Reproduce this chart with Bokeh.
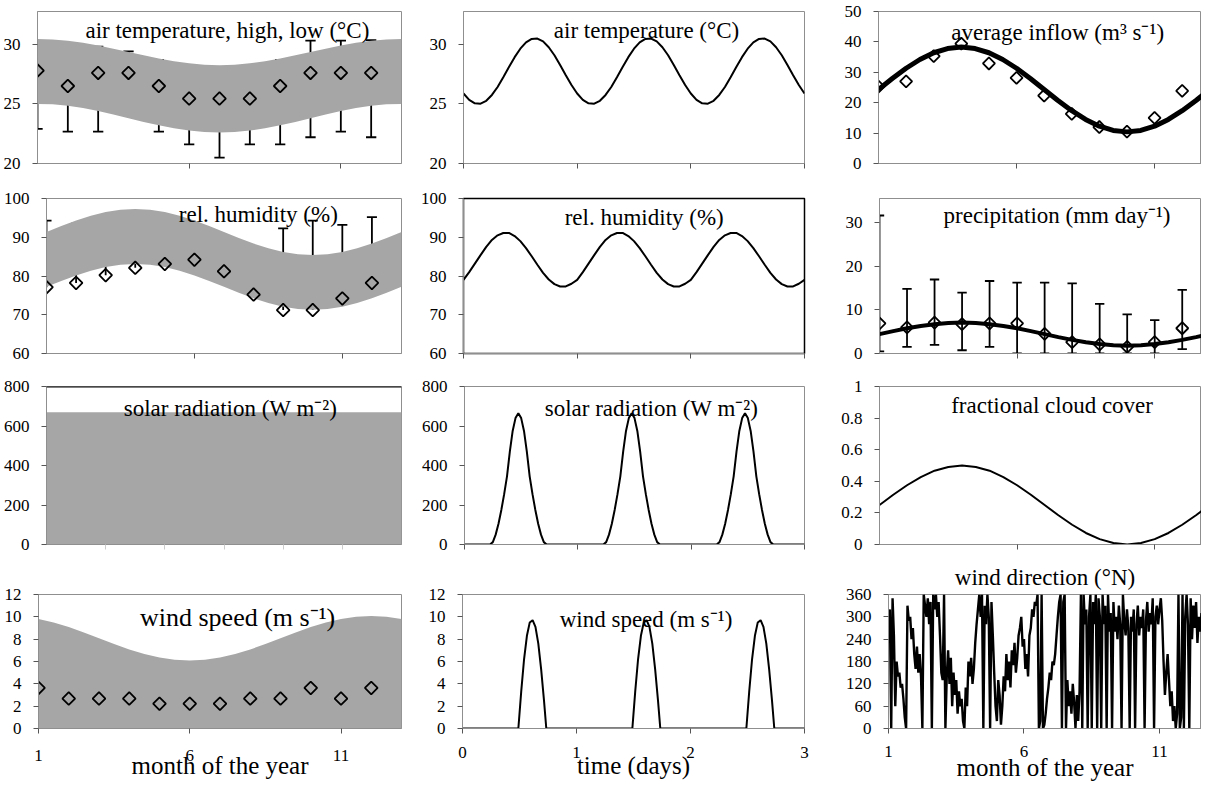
import numpy as np
from bokeh.plotting import figure
from bokeh.models import Range1d, Label, FixedTicker, Span
from bokeh.layouts import row, column
from bokeh.embed import file_html
from bokeh.resources import INLINE

FONT = "Liberation Serif"
BAND = "#a6a6a6"
FRAME = "#8f8f8f"

# ---------------- data ----------------
months = [1, 2, 3, 4, 5, 6, 7, 8, 9, 10, 11, 12]
mgrid = [1.0, 1.5, 2.0, 2.5, 3.0, 3.5, 4.0, 4.5, 5.0, 5.5, 6.0, 6.5, 7.0,
         7.5, 8.0, 8.5, 9.0, 9.5, 10.0, 10.5, 11.0, 11.5, 12.0, 12.5, 13.0]
mfill = [1, 2, 3, 4, 5, 6, 7, 8, 9, 10, 11, 12, 13]

# air temperature monthly
temp_band_hi = [30.45, 30.41, 30.30, 30.13, 29.90, 29.63, 29.35, 29.07, 28.80, 28.57, 28.40, 28.29, 28.25,
                28.29, 28.40, 28.57, 28.80, 29.07, 29.35, 29.63, 29.90, 30.13, 30.30, 30.41, 30.45]
temp_band_lo = [25.00, 24.96, 24.84, 24.65, 24.40, 24.11, 23.80, 23.49, 23.20, 22.95, 22.76, 22.64, 22.60,
                22.64, 22.76, 22.95, 23.20, 23.49, 23.80, 24.11, 24.40, 24.65, 24.84, 24.96, 25.00]
temp_mean = [27.8, 26.5, 27.6, 27.6, 26.5, 25.45, 25.45, 25.45, 26.5, 27.6, 27.6, 27.6]
temp_high = [29.8, 29.6, 29.8, 29.4, 28.7, 28.0, 27.8, 28.0, 28.7, 30.3, 30.3, 30.35]
temp_low = [22.9, 22.67, 22.67, 24.2, 22.67, 21.6, 20.5, 21.6, 21.6, 22.2, 22.67, 22.2]

# relative humidity monthly
rh_band_hi = [91.35, 92.89, 94.33, 95.56, 96.50, 97.10, 97.30, 97.10, 96.50, 95.56, 94.33, 92.89, 91.35,
              89.81, 88.38, 87.14, 86.20, 85.60, 85.40, 85.60, 86.20, 87.14, 88.38, 89.81, 91.35]
rh_band_lo = [77.20, 78.73, 80.15, 81.37, 82.31, 82.90, 83.10, 82.90, 82.31, 81.37, 80.15, 78.73, 77.20,
              75.67, 74.25, 73.03, 72.09, 71.50, 71.30, 71.50, 72.09, 73.03, 74.25, 75.67, 77.20]
rh_mean = [77.1, 78.2, 80.2, 82.1, 83.1, 84.2, 81.2, 75.2, 71.2, 71.2, 74.2, 78.2]
rh_high = [94.3, 93.5, 95.0, 96.0, 95.5, 93.5, 90.0, 87.5, 92.3, 94.3, 93.2, 95.2]

# solar radiation monthly (upper envelope)
solar_max = [670, 670, 670, 670, 670, 670, 670, 670, 670, 670, 670, 670, 670]

# wind speed monthly
wind_band_hi = [9.81, 9.49, 9.08, 8.60, 8.08, 7.56, 7.08, 6.67, 6.35, 6.15, 6.08, 6.15, 6.35,
                6.67, 7.08, 7.56, 8.08, 8.60, 9.08, 9.49, 9.81, 10.01, 10.08, 10.01, 9.81]
wind_mean = [3.63, 2.68, 2.68, 2.68, 2.22, 2.22, 2.22, 2.68, 2.68, 3.63, 2.68, 3.63]

# daily profiles (one day, repeated for three days)
temp_day_t = [0.0, 0.05, 0.10, 0.15, 0.20, 0.25, 0.30, 0.35, 0.40, 0.45,
              0.50, 0.55, 0.60, 0.65, 0.70, 0.75, 0.80, 0.85, 0.90, 0.95]
temp_day = [25.87, 25.34, 25.05, 25.02, 25.26, 25.75, 26.42, 27.24, 28.09, 28.92,
            29.63, 30.16, 30.45, 30.48, 30.24, 29.75, 29.08, 28.26, 27.41, 26.58]
rh_day = [79.0, 81.0, 83.2, 85.4, 87.5, 89.3, 90.5, 91.1, 91.1, 90.3,
          89.0, 87.2, 85.1, 82.9, 80.8, 79.1, 77.9, 77.3, 77.3, 78.0]
solar_day_t = [0.0, 0.225, 0.25, 0.275, 0.30, 0.325, 0.35, 0.375, 0.40, 0.425, 0.45, 0.475,
               0.50, 0.525, 0.55, 0.575, 0.60, 0.625, 0.65, 0.675, 0.70, 0.725]
solar_day = [0, 0, 12, 50, 105, 175, 255, 345, 470, 575, 640, 665,
             640, 575, 470, 345, 255, 175, 105, 50, 12, 0]
wind_day_t = [0.0, 0.49, 0.515, 0.54, 0.565, 0.59, 0.615, 0.64, 0.665, 0.69, 0.715, 0.735]
wind_day = [0, 0, 3.3, 6.2, 8.3, 9.5, 9.7, 9.1, 7.6, 5.3, 2.5, 0]

# average inflow
inflow_obs = [25.3, 27.0, 35.3, 39.4, 32.9, 28.2, 22.3, 16.3, 12.0, 10.5, 15.0, 23.9]
inflow_fit = [24.35, 27.96, 31.33, 34.21, 36.43, 37.82, 38.30, 37.82, 36.43, 34.21, 31.33, 27.96, 24.35,
              20.74, 17.38, 14.49, 12.27, 10.88, 10.40, 10.88, 12.27, 14.49, 17.38, 20.74, 24.35]

# precipitation
precip_obs = [6.9, 6.0, 7.1, 6.75, 6.9, 6.9, 4.5, 2.6, 2.1, 1.5, 2.6, 5.8]
precip_high = [31.7, 14.85, 17.0, 14.0, 16.65, 16.3, 16.3, 16.1, 11.4, 9.0, 7.65, 14.6]
precip_low = [0.5, 1.5, 2.0, 0.75, 1.5, 0.0, 0.0, 0.0, 0.0, 0.0, 0.0, 1.0]
precip_fit = [4.45, 5.14, 5.78, 6.32, 6.74, 7.01, 7.10, 7.01, 6.74, 6.32, 5.78, 5.14, 4.45,
              3.76, 3.13, 2.58, 2.16, 1.89, 1.80, 1.89, 2.16, 2.58, 3.13, 3.76, 4.45]

# fractional cloud cover
cloud = [0.250, 0.315, 0.375, 0.427, 0.467, 0.491, 0.500, 0.491, 0.467, 0.427, 0.375, 0.315, 0.250,
         0.185, 0.125, 0.073, 0.034, 0.009, 0.000, 0.009, 0.034, 0.073, 0.125, 0.185, 0.250]

# wind direction (every 0.05 month from month 1)
wind_dir = [
    280, 320, 0, 350, 250, 60, 180, 140, 150, 110, 120, 80, 30, 0, 330, 290, 300, 240, 270, 200,
    160, 220, 150, 200, 140, 0, 360, 330, 300, 350, 280, 340, 0, 360, 320, 360, 300, 340, 250, 150,
    130, 360, 0, 140, 210, 120, 190, 60, 150, 90, 130, 40, 100, 60, 80, 20, 0, 110, 60, 180,
    140, 190, 120, 160, 230, 280, 320, 360, 300, 360, 0, 330, 280, 360, 300, 0, 340, 250, 150, 60,
    20, 130, 90, 10, 60, 140, 100, 200, 130, 180, 110, 210, 170, 230, 150, 190, 250, 270, 300, 220,
    240, 160, 200, 140, 250, 270, 320, 300, 340, 330, 360, 0, 20, 360, 0, 10, 40, 80, 110, 150,
    130, 180, 170, 200, 250, 300, 340, 360, 0, 340, 360, 0, 130, 60, 100, 40, 120, 70, 0, 90,
    20, 100, 360, 0, 360, 280, 320, 0, 300, 360, 0, 340, 280, 360, 0, 350, 300, 0, 360, 280,
    330, 0, 360, 260, 310, 0, 340, 260, 300, 240, 330, 280, 0, 360, 290, 250, 320, 270, 0, 300,
    260, 320, 0, 280, 330, 250, 300, 270, 320, 0, 290, 340, 260, 310, 280, 350, 0, 300, 330, 280,
    320, 350, 290, 180, 90, 150, 200, 130, 60, 100, 20, 60, 0, 40, 360, 0, 30, 360, 0, 300,
    360, 280, 0, 350, 240, 330, 270, 340, 230, 300, 260, 310, 280, 320, 270]
wind_dir_month = [round(1 + 0.05 * i, 2) for i in range(len(wind_dir))]


def tile(ts, vs, days=3):
    tt, vv = [], []
    for d in range(days):
        tt += [d + t for t in ts]
        vv += list(vs)
    return tt + [float(days)], vv + [vs[0]]


# ---------------- helpers ----------------
def make(w, h, bl, br, bt, bb, xr, yr, xt, yt, xlabels=False, xstand=10, overrides=None):
    p = figure(width=w, height=h, x_range=Range1d(*xr), y_range=Range1d(*yr),
               output_backend="svg", toolbar_location=None,
               min_border_left=bl, min_border_right=br, min_border_top=bt, min_border_bottom=bb)
    p.xgrid.visible = False
    p.ygrid.visible = False
    p.outline_line_color = FRAME
    p.outline_line_width = 1
    p.background_fill_color = "white"
    p.border_fill_color = "white"
    for ax in (p.xaxis[0], p.yaxis[0]):
        ax.axis_line_color = FRAME
        ax.major_tick_line_color = "#555555"
        ax.major_tick_out = 5
        ax.major_tick_in = 0
        ax.minor_tick_line_color = None
        ax.major_label_text_font = FONT
        ax.major_label_text_font_size = "17px"
        ax.major_label_text_color = "black"
    p.yaxis.ticker = FixedTicker(ticks=yt, minor_ticks=[])
    p.xaxis.ticker = FixedTicker(ticks=xt, minor_ticks=[])
    p.yaxis.major_label_standoff = 12
    if xlabels:
        p.xaxis.major_label_standoff = xstand
    else:
        p.xaxis.major_label_text_font_size = "1px"
        p.xaxis.major_label_text_color = None
        p.xaxis.major_label_standoff = 0
    if overrides:
        p.yaxis.major_label_overrides = overrides
    return p


def label(p, text, x, y, yoff, size="23px"):
    p.add_layout(Label(x=x, y=y, y_offset=yoff, text=text, text_font=FONT, text_font_size=size,
                       text_align="center", text_baseline="alphabetic", text_color="black"))


def axis_title(p, text, standoff, size="25px"):
    p.xaxis.axis_label = text
    p.xaxis.axis_label_text_font = FONT
    p.xaxis.axis_label_text_font_size = size
    p.xaxis.axis_label_text_font_style = "normal"
    p.xaxis.axis_label_text_color = "black"
    p.xaxis.axis_label_text_line_height = 0.9
    p.xaxis.axis_label_standoff = standoff


def diamonds(p, x, y, size=9):
    p.scatter(x=x, y=y, marker="square", angle=np.pi / 4, size=size,
              fill_color=None, line_color="black", line_width=1.8)


def errbars(p, x, lo, hi, hw=0.17, caps_lo=True):
    p.segment(x0=x, y0=lo, x1=x, y1=hi, line_color="black", line_width=1.8)
    p.segment(x0=[m - hw for m in x], y0=hi, x1=[m + hw for m in x], y1=hi, line_color="black", line_width=1.8)
    if caps_lo:
        p.segment(x0=[m - hw for m in x], y0=lo, x1=[m + hw for m in x], y1=lo, line_color="black", line_width=1.8)


W1, W2, W3 = 417, 421, 363
H1, H2, H3, H4 = 176, 189, 190, 230
MX = [6, 11]
DX = [0, 1, 2, 3]

# ---------------- row 1 ----------------
p11 = make(W1, H1, 37, 16, 11, 13, (1, 13), (20, 32.75), MX, [20, 25, 30])
errbars(p11, months, temp_low, temp_high)
p11.varea(x=mgrid, y1=temp_band_lo, y2=temp_band_hi, fill_color=BAND)
diamonds(p11, months, temp_mean)
label(p11, "air temperature, high, low (°C)", 7.26, 32.75, -19)

p12 = make(W2, H1, 46, 34, 11, 13, (0, 3), (20, 32.75), DX, [20, 25, 30])
tt, vv = tile(temp_day_t, temp_day)
p12.line(tt, vv, line_color="black", line_width=2)
label(p12, "air temperature (°C)", 1.61, 32.75, -19)

p13 = make(W3, H1, 40, 0, 11, 13, (1, 12.7), (0, 50), MX, [0, 10, 20, 30, 40, 50])
p13.line(mgrid, inflow_fit, line_color="black", line_width=5)
diamonds(p13, months, inflow_obs, size=8.5)
label(p13, "average inflow (m³ s⁻¹)", 7.49, 50, -21)

# ---------------- row 2 ----------------
p21 = make(W1, H2, 44, 16, 21, 10, (1, 13), (60, 100), MX, [60, 70, 80, 90, 100])
errbars(p21, months, rh_mean, rh_high, caps_lo=False)
p21.varea(x=mgrid, y1=rh_band_lo, y2=rh_band_hi, fill_color=BAND)
diamonds(p21, months, rh_mean)
label(p21, "rel. humidity (%)", 8.16, 100, -16)

p22 = make(W2, H2, 46, 34, 22, 11, (0, 3), (60, 100), DX, [60, 70, 80, 90, 100])
p22.outline_line_color = "black"
p22.outline_line_width = 1.5
tt, vv = tile(temp_day_t, rh_day)
p22.line(tt, vv, line_color="black", line_width=2)
label(p22, "rel. humidity (%)", 1.59, 100, -19)

p23 = make(W3, H2, 41, 0, 19, 12, (1, 12.7), (0, 35.6), MX, [0, 10, 20, 30])
errbars(p23, months, precip_low, precip_high)
diamonds(p23, months, precip_obs, size=8.5)
p23.line(mgrid, precip_fit, line_color="black", line_width=4)
label(p23, "precipitation (mm day⁻¹)", 7.45, 35.6, -17)

# ---------------- row 3 ----------------
p31 = make(W1, H3, 46, 16, 21, 11, (1, 13), (0, 800), [3, 5, 7, 9, 11], [0, 200, 400, 600, 800])
p31.xaxis.major_tick_line_color = "#cccccc"
p31.varea(x=mfill, y1=[0] * len(solar_max), y2=solar_max, fill_color=BAND)
p31.add_layout(Span(location=800, dimension="width", line_color="black", line_width=2))
label(p31, "solar radiation (W m⁻²)", 7.22, 800, -22)

p32 = make(W2, H3, 47, 34, 21, 11, (0, 3), (0, 800), DX, [0, 200, 400, 600, 800])
tt, vv = tile(solar_day_t, solar_day)
p32.line(tt, vv, line_color="black", line_width=2)
label(p32, "solar radiation (W m⁻²)", 1.65, 800, -22)

p33 = make(W3, H3, 38, 0, 21, 11, (1, 12.7), (0, 1), MX, [0, 0.2, 0.4, 0.6, 0.8, 1],
           overrides={0: "0", 0.2: "0.2", 0.4: "0.4", 0.6: "0.6", 0.8: "0.8", 1: "1"})
p33.line(mgrid, cloud, line_color="black", line_width=2)
label(p33, "fractional cloud cover", 7.27, 1, -19)

# ---------------- row 4 ----------------
p41 = make(W1, H4, 38, 16, 21, 56, (1, 13), (0, 12), [1, 6, 11], [0, 2, 4, 6, 8, 10, 12],
           xlabels=True, xstand=16)
p41.varea(x=mgrid, y1=[0] * len(wind_band_hi), y2=wind_band_hi, fill_color=BAND)
diamonds(p41, months, wind_mean)
label(p41, "wind speed (m s⁻¹)", 7.58, 12, -23, size="26px")
axis_title(p41, "month of the year", -12)

p42 = make(W2, H4, 45, 34, 21, 56, (0, 3), (0, 12), DX, [0, 2, 4, 6, 8, 10, 12],
           xlabels=True, xstand=13)
tt, vv = tile(wind_day_t, wind_day)
p42.line(tt, vv, line_color="black", line_width=2)
label(p42, "wind speed (m s⁻¹)", 1.61, 12, -25)
axis_title(p42, "time (days)", -9)

p43 = make(W3, H4, 50, 0, 39, 57, (1, 12.55), (0, 360), [1, 6, 11], [0, 60, 120, 180, 240, 300, 360],
           xlabels=True, xstand=12)
p43.line(wind_dir_month, wind_dir, line_color="black", line_width=2.4)
p43.title.text = "wind direction (°N)"
p43.title.align = "center"
p43.title.text_font = FONT
p43.title.text_font_size = "23px"
p43.title.text_font_style = "normal"
p43.title.text_color = "black"
p43.title.standoff = 10
axis_title(p43, "month of the year", -6)

layout = column(row(p11, p12, p13), row(p21, p22, p23), row(p31, p32, p33), row(p41, p42, p43))

open("out.html", "w").write(file_html(layout, INLINE))
